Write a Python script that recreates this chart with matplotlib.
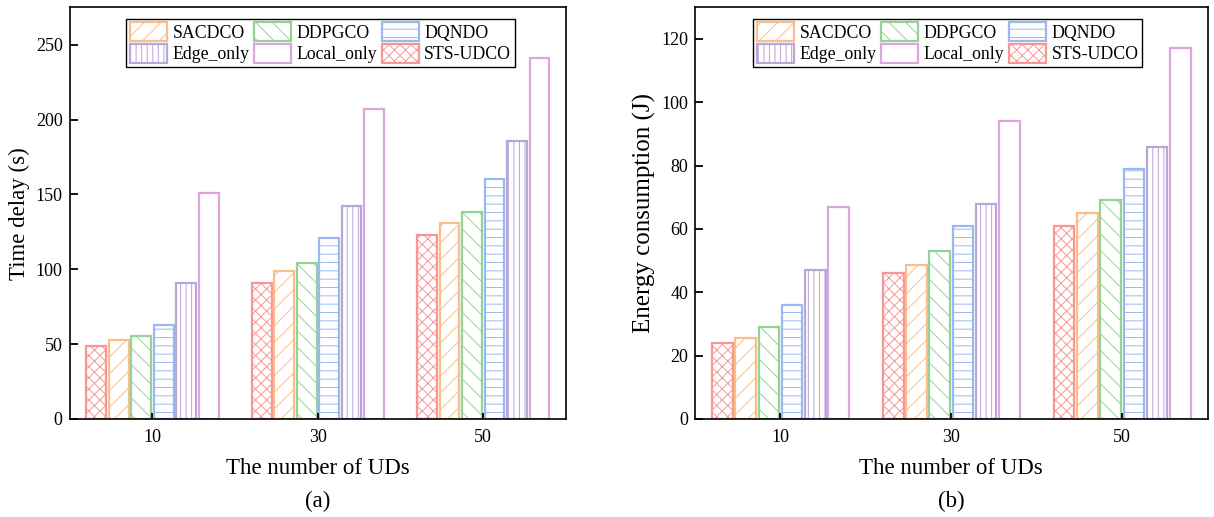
import matplotlib
matplotlib.use('Agg')
import matplotlib.pyplot as plt
import numpy as np

plt.rcParams['font.family'] = ['Liberation Serif', 'DejaVu Serif']
plt.rcParams['hatch.linewidth'] = 0.7

users = ['10', '30', '50']
methods = ['STS-UDCO', 'SACDCO', 'DDPGCO', 'DQNDO', 'Edge_only', 'Local_only']
delay = {
    'STS-UDCO': [49, 91, 123],
    'SACDCO': [53, 99, 131],
    'DDPGCO': [55.5, 104, 138],
    'DQNDO': [63, 121, 160],
    'Edge_only': [91, 142, 186],
    'Local_only': [151, 207, 241],
}
energy = {
    'STS-UDCO': [24, 46, 61],
    'SACDCO': [25.5, 48.5, 65],
    'DDPGCO': [29, 53, 69],
    'DQNDO': [36, 61, 79],
    'Edge_only': [47, 68, 86],
    'Local_only': [67, 94, 117],
}

colors = {
    'STS-UDCO': '#F89696',
    'SACDCO': '#FBBE8A',
    'DDPGCO': '#96D296',
    'DQNDO': '#98B9F2',
    'Edge_only': '#B8A6D6',
    'Local_only': '#DCA6DC',
}
hatches = {
    'STS-UDCO': 'xxx',
    'SACDCO': '//',
    'DDPGCO': '\\\\',
    'DQNDO': '--',
    'Edge_only': '|||',
    'Local_only': '',
}
# matplotlib fills legend columns first, so this gives the row order of the original
legend_order = ['SACDCO', 'Edge_only', 'DDPGCO', 'Local_only', 'DQNDO', 'STS-UDCO']

fig = plt.figure(figsize=(12.14, 5.17), dpi=100)
ax1 = fig.add_axes([0.0574, 0.1896, 0.4088, 0.7963])
ax2 = fig.add_axes([0.5725, 0.1896, 0.4223, 0.7963])

x = np.arange(len(users))
pitch = 0.136
width = 0.12


def draw(ax, data, ylabel, ylabel_size, ylim, yticks):
    bars = {}
    for i, m in enumerate(methods):
        offs = (i - 2.5) * pitch
        b = ax.bar(x + offs, data[m], width, facecolor='white', edgecolor=colors[m],
                   hatch=hatches[m], linewidth=1.6, label=m)
        bars[m] = b
    ax.set_xlim(-0.5, 2.5)
    ax.set_ylim(*ylim)
    ax.set_yticks(yticks)
    ax.set_xticks(x)
    ax.set_xticklabels(users)
    ax.tick_params(direction='in', labelsize=13, width=1.3)
    ax.tick_params(axis='y', length=6, pad=5)
    ax.tick_params(axis='x', length=4, pad=7)
    for s in ax.spines.values():
        s.set_linewidth(1.2)
    ax.set_xlabel('The number of UDs', fontsize=16.5, labelpad=9)
    ax.set_ylabel(ylabel, fontsize=ylabel_size, labelpad=4)
    ax.legend([bars[m] for m in legend_order], legend_order, ncol=3, fontsize=12.8,
              loc='upper left', bbox_to_anchor=(0.114, 0.972), frameon=True, fancybox=False,
              edgecolor='black', framealpha=1, handlelength=2.1, handleheight=1.25,
              labelspacing=0.12, columnspacing=0.25, handletextpad=0.3, borderpad=0.2,
              borderaxespad=0)


draw(ax1, delay, 'Time delay (s)', 16.5, (0, 275), range(0, 251, 50))
draw(ax2, energy, 'Energy consumption (J)', 18, (0, 130), range(0, 121, 20))

fig.text(0.262, 0.030, '(a)', ha='center', va='center', fontsize=16.5)
fig.text(0.784, 0.030, '(b)', ha='center', va='center', fontsize=16.5)

fig.savefig('out.png', dpi=100)
